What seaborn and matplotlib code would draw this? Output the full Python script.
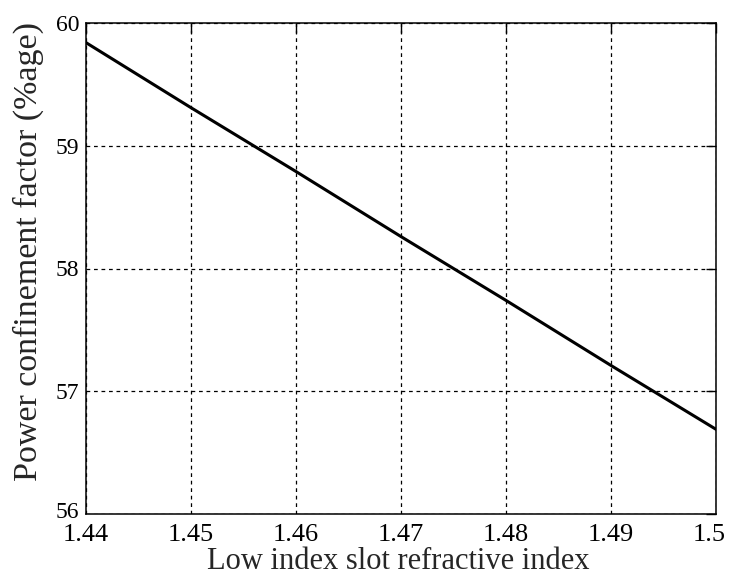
import matplotlib
matplotlib.use("Agg")
import matplotlib.pyplot as plt
import matplotlib.transforms as mtransforms
import seaborn as sns
import pandas as pd

# Slot refractive index vs. power confinement factor
slot_index = [1.44, 1.45, 1.46, 1.47, 1.48, 1.49, 1.50]
confinement = [59.84, 59.31, 58.79, 58.26, 57.74, 57.21, 56.69]

x_ticks = [1.44, 1.45, 1.46, 1.47, 1.48, 1.49, 1.5]
x_tick_labels = ["1.44", "1.45", "1.46", "1.47", "1.48", "1.49", "1.5"]
y_ticks = [56, 57, 58, 59, 60]
y_tick_labels = ["56", "57", "58", "59", "60"]

sns.set_style("white")
plt.rcParams["font.family"] = ["Liberation Serif", "DejaVu Serif"]

df = pd.DataFrame({"n": slot_index, "gamma": confinement})

fig = plt.figure(figsize=(7.29, 5.78), dpi=100)
ax = fig.add_axes([86 / 729, 1 - 514 / 578, 630 / 729, 491 / 578])

sns.lineplot(data=df, x="n", y="gamma", ax=ax, color="black", linewidth=2.2)

ax.set_xlim(1.44, 1.5)
ax.set_ylim(56, 60)
ax.set_xticks(x_ticks)
ax.set_xticklabels(x_tick_labels, fontsize=19)
ax.set_yticks(y_ticks)
ax.set_yticklabels(y_tick_labels, fontsize=17)

ax.grid(True, color="black", linestyle=(0, (3, 3)), linewidth=0.9)
ax.tick_params(direction="in", length=7, width=1, top=True, right=True, colors="black")
ax.tick_params(axis="x", pad=7)
ax.tick_params(axis="y", pad=5)
for s in ax.spines.values():
    s.set_color("black")
    s.set_linewidth(1.1)

# keep the last x tick label inside the figure
last = ax.get_xticklabels()[-1]
last.set_transform(last.get_transform() +
                   mtransforms.ScaledTranslation(-7 / 100, 0, fig.dpi_scale_trans))
# lift the lowest y tick label clear of the first x tick label
first_y = ax.get_yticklabels()[0]
first_y.set_transform(first_y.get_transform() +
                      mtransforms.ScaledTranslation(0, 4 / 100, fig.dpi_scale_trans))

ax.set_xlabel("Low index slot refractive index", fontsize=22)
ax.set_ylabel("Power confinement factor (%age)", fontsize=24.5)
ax.xaxis.set_label_coords(0.496, -0.068)
ax.yaxis.set_label_coords(-0.066, 0.535)

fig.savefig("out.png", dpi=100)
